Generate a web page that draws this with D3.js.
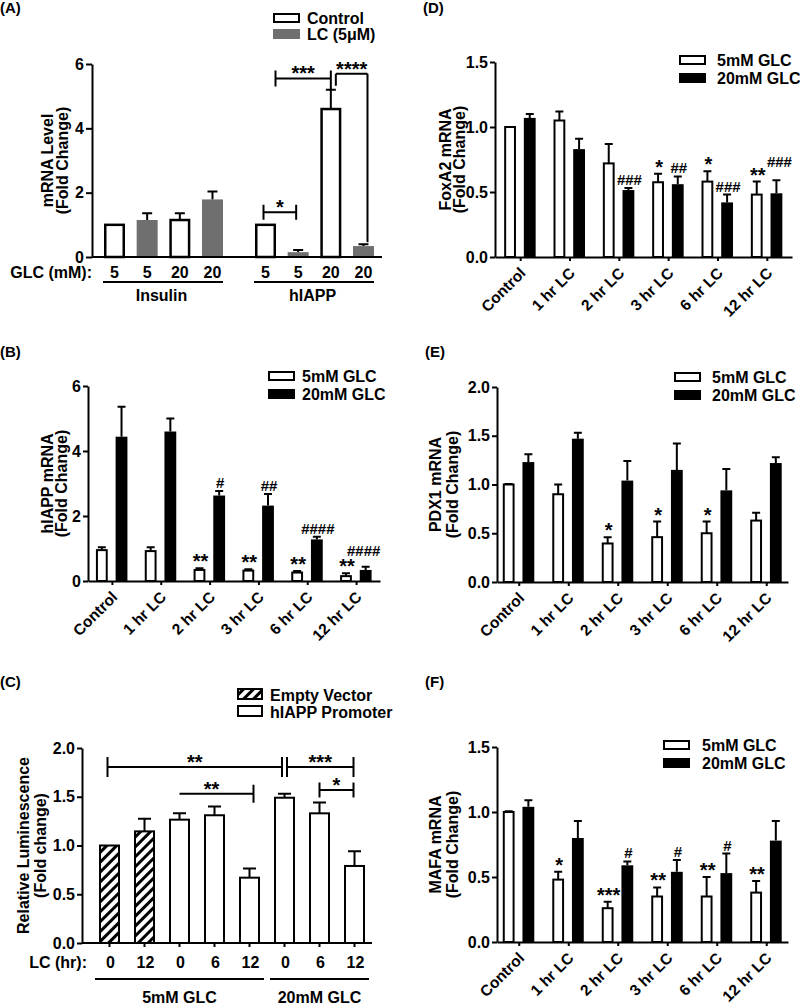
<!DOCTYPE html>
<html>
<head>
<meta charset="utf-8">
<script src="https://cdn.jsdelivr.net/npm/d3@7"></script>
<style>
html,body{margin:0;padding:0;background:#fff;}
svg{display:block;}
</style>
</head>
<body>
<svg id="fig" width="800" height="1005"></svg>
<script>
// ================= DATA =================
// Panel A
const aGroups = ["Insulin", "hIAPP"];
const aGlc = ["5", "5", "20", "20"];
const aTreatment = ["Control", "LC", "Control", "LC"];
const aLegend = ["Control", "LC (5\u03BCM)"];
const aInsulinMean = [1.00, 1.15, 1.15, 1.79];
const aInsulinSem  = [0.00, 0.21, 0.21, 0.25];
const aHiappMean   = [1.00, 0.15, 4.60, 0.34];
const aHiappSem    = [0.00, 0.07, 0.60, 0.06];
const aYTicks = [0, 2, 4, 6];
const aSig = [
  {from: 0, to: 1, text: "*"},
  {from: 0, to: 2, text: "***"},
  {from: 2, to: 3, text: "****"}
];

// Time-course panels (B, D, E, F)
const timeCats = ["Control", "1 hr LC", "2 hr LC", "3 hr LC", "6 hr LC", "12 hr LC"];
const glcSeries = ["5mM GLC", "20mM GLC"];

const bLow     = [0.95, 0.92, 0.34, 0.32, 0.26, 0.15];
const bLowSem  = [0.09, 0.12, 0.05, 0.04, 0.05, 0.09];
const bHigh    = [4.44, 4.60, 2.63, 2.32, 1.28, 0.34];
const bHighSem = [0.92, 0.40, 0.14, 0.36, 0.08, 0.10];
const bYTicks  = [0, 2, 4, 6];
const bMarks = [
  {cat: "2 hr LC", s: 0, text: "**"}, {cat: "2 hr LC", s: 1, text: "#"},
  {cat: "3 hr LC", s: 0, text: "**"}, {cat: "3 hr LC", s: 1, text: "##"},
  {cat: "6 hr LC", s: 0, text: "**"}, {cat: "6 hr LC", s: 1, text: "####"},
  {cat: "12 hr LC", s: 0, text: "**"}, {cat: "12 hr LC", s: 1, text: "####"}
];

const dLow     = [1.00, 1.05, 0.72, 0.575, 0.58, 0.48];
const dLowSem  = [0.00, 0.07, 0.15, 0.065, 0.08, 0.10];
const dHigh    = [1.07, 0.83, 0.515, 0.56, 0.42, 0.49];
const dHighSem = [0.03, 0.08, 0.015, 0.06, 0.06, 0.10];
const dYTicks  = [0, 0.5, 1.0, 1.5];
const dMarks = [
  {cat: "2 hr LC", s: 1, text: "###"},
  {cat: "3 hr LC", s: 0, text: "*"}, {cat: "3 hr LC", s: 1, text: "##"},
  {cat: "6 hr LC", s: 0, text: "*"}, {cat: "6 hr LC", s: 1, text: "###"},
  {cat: "12 hr LC", s: 0, text: "**"}, {cat: "12 hr LC", s: 1, text: "###"}
];

const eLow     = [1.00, 0.90, 0.395, 0.46, 0.50, 0.63];
const eLowSem  = [0.005, 0.10, 0.065, 0.16, 0.12, 0.08];
const eHigh    = [1.23, 1.47, 1.04, 1.15, 0.94, 1.22];
const eHighSem = [0.08, 0.06, 0.20, 0.27, 0.22, 0.06];
const eYTicks  = [0, 0.5, 1.0, 1.5, 2.0];
const eMarks = [
  {cat: "2 hr LC", s: 0, text: "*"},
  {cat: "3 hr LC", s: 0, text: "*"},
  {cat: "6 hr LC", s: 0, text: "*"}
];

const fLow     = [1.00, 0.48, 0.26, 0.35, 0.35, 0.38];
const fLowSem  = [0.005, 0.06, 0.05, 0.07, 0.15, 0.09];
const fHigh    = [1.04, 0.80, 0.59, 0.54, 0.53, 0.78];
const fHighSem = [0.05, 0.13, 0.03, 0.09, 0.15, 0.15];
const fYTicks  = [0, 0.5, 1.0, 1.5];
const fMarks = [
  {cat: "1 hr LC", s: 0, text: "*"},
  {cat: "2 hr LC", s: 0, text: "***"}, {cat: "2 hr LC", s: 1, text: "#"},
  {cat: "3 hr LC", s: 0, text: "**"}, {cat: "3 hr LC", s: 1, text: "#"},
  {cat: "6 hr LC", s: 0, text: "**"}, {cat: "6 hr LC", s: 1, text: "#"},
  {cat: "12 hr LC", s: 0, text: "**"}
];

// Panel C
const cLC     = ["0", "12", "0", "6", "12", "0", "6", "12"];
const cVector = ["Empty Vector", "Empty Vector", "hIAPP Promoter", "hIAPP Promoter",
                 "hIAPP Promoter", "hIAPP Promoter", "hIAPP Promoter", "hIAPP Promoter"];
const cGlc    = ["5mM GLC", "5mM GLC", "5mM GLC", "5mM GLC", "5mM GLC", "20mM GLC", "20mM GLC", "20mM GLC"];
const cMean   = [1.00, 1.145, 1.265, 1.31, 0.67, 1.49, 1.33, 0.79];
const cSem    = [0.00, 0.13, 0.065, 0.09, 0.095, 0.04, 0.11, 0.15];
const cYTicks = [0, 0.5, 1.0, 1.5, 2.0];
const cLegend = ["Empty Vector", "hIAPP Promoter"];
const cSig = [
  {from: 0, to: 5, text: "**"},
  {from: 5, to: 7, text: "***"},
  {from: 2, to: 4, text: "**"},
  {from: 6, to: 7, text: "*"}
];

// ================= DRAWING =================
const FONT = '"Liberation Sans", Arial, Helvetica, sans-serif';
const GREY = "#6f6f6f";
const svg = d3.select("#fig");
const root = svg.append("g").attr("font-family", FONT).attr("font-weight", "bold").attr("fill", "#000");

const defs = svg.append("defs");
const pat = defs.append("pattern").attr("id", "hatch").attr("patternUnits", "userSpaceOnUse")
  .attr("width", 7).attr("height", 7).attr("patternTransform", "rotate(45)");
pat.append("rect").attr("width", 7).attr("height", 7).attr("fill", "#fff");
pat.append("rect").attr("width", 3).attr("height", 7).attr("fill", "#000");

function styleAxis(g, fs) {
  g.attr("font-family", FONT).attr("font-weight", "bold").attr("font-size", fs);
  g.selectAll(".domain").attr("stroke", "#000").attr("stroke-width", 2);
  g.selectAll(".tick line").attr("stroke", "#000").attr("stroke-width", 2);
  g.selectAll(".tick text").attr("fill", "#000");
}
function panelLabel(txt, x, y) {
  root.append("text").attr("x", x).attr("y", y).attr("font-size", 15).text(txt);
}
function yLabel(lines, xs, yc) {
  lines.forEach((t, i) => root.append("text")
    .attr("transform", `translate(${xs[i]},${yc}) rotate(-90)`)
    .attr("text-anchor", "middle").attr("font-size", 16).text(t));
}
function errPath(cx, y, m, e, cap) {
  return `M${cx},${y(m)}V${y(m + e)}M${cx - cap / 2},${y(m + e)}H${cx + cap / 2}`;
}
function bracket(g, x1, x2, ly, leftEnd, rightEnd, text, tx, fs) {
  let d = `M${x1},${ly}H${x2}`;
  if (leftEnd) d += `M${x1},${leftEnd[0]}V${leftEnd[1]}`;
  if (rightEnd) d += `M${x2},${rightEnd[0]}V${rightEnd[1]}`;
  g.append("path").attr("d", d).attr("stroke", "#000").attr("stroke-width", 2).attr("fill", "none");
  g.append("text").attr("x", tx).attr("y", ly + 2).attr("text-anchor", "middle")
    .attr("font-size", fs).text(text);
}
function legendBox(g, x, y, w, h, kind, label, tx, fs) {
  if (kind === "white") {
    g.append("rect").attr("x", x + 1).attr("y", y + 1).attr("width", w - 2).attr("height", h - 2)
      .attr("fill", "#fff").attr("stroke", "#000").attr("stroke-width", 2);
  } else if (kind === "hatch") {
    g.append("rect").attr("x", x + 1).attr("y", y + 1).attr("width", w - 2).attr("height", h - 2)
      .attr("fill", "url(#hatch)").attr("stroke", "#000").attr("stroke-width", 2);
  } else {
    g.append("rect").attr("x", x).attr("y", y).attr("width", w).attr("height", h).attr("fill", kind);
  }
  g.append("text").attr("x", tx).attr("y", y + h + 1).attr("font-size", fs).text(label);
}

// ---------- Panel A ----------
(function () {
  const L = {axisX: 92, axisEnd: 382, y0: 257, y1: 64};
  const g = root.append("g");
  const x = d3.scaleBand().domain(aGroups).range([104, 374]).paddingInner(0.212);
  const xi = d3.scaleBand().domain(d3.range(aGlc.length)).range([0, x.bandwidth()]).paddingInner(0.357);
  const y = d3.scaleLinear().domain([0, 6]).range([L.y0, L.y1]);
  const means = {Insulin: aInsulinMean, hIAPP: aHiappMean};
  const sems = {Insulin: aInsulinSem, hIAPP: aHiappSem};
  const rows = aGroups.flatMap(gr => aGlc.map((glc, i) => ({gr, i, glc, t: aTreatment[i], m: means[gr][i], e: sems[gr][i]})));
  const cx = (gr, i) => x(gr) + xi(i) + xi.bandwidth() / 2;
  const isCtl = d => d.t === "Control";

  g.selectAll("path.err").data(rows.filter(d => d.e > 0)).join("path").attr("class", "err")
    .attr("d", d => errPath(cx(d.gr, d.i), y, d.m, d.e, 10))
    .attr("stroke", "#000").attr("stroke-width", 2).attr("fill", "none");
  g.selectAll("rect.bar").data(rows).join("rect").attr("class", "bar")
    .attr("x", d => x(d.gr) + xi(d.i) + (isCtl(d) ? 1.25 : 0))
    .attr("width", d => xi.bandwidth() - (isCtl(d) ? 2.5 : 0))
    .attr("y", d => y(d.m)).attr("height", d => y(0) - y(d.m))
    .attr("fill", d => isCtl(d) ? "#fff" : GREY)
    .attr("stroke", d => isCtl(d) ? "#000" : "none").attr("stroke-width", 2.5);

  const gy = g.append("g").attr("transform", `translate(${L.axisX},0)`)
    .call(d3.axisLeft(y).tickValues(aYTicks).tickFormat(d3.format("d")).tickSize(6).tickSizeOuter(0).tickPadding(2));
  styleAxis(gy, 16);
  g.append("line").attr("x1", L.axisX).attr("x2", L.axisEnd).attr("y1", y(0)).attr("y2", y(0))
    .attr("stroke", "#000").attr("stroke-width", 2);

  // x labels
  g.append("text").attr("x", L.axisX).attr("y", 278).attr("text-anchor", "end").attr("font-size", 16).text("GLC (mM):");
  g.selectAll("text.glc").data(rows).join("text").attr("class", "glc")
    .attr("x", d => cx(d.gr, d.i)).attr("y", 278).attr("text-anchor", "middle").attr("font-size", 16).text(d => d.glc);
  aGroups.forEach(gr => {
    g.append("line").attr("x1", x(gr) - 1).attr("x2", x(gr) + x.bandwidth()).attr("y1", 282).attr("y2", 282)
      .attr("stroke", "#000").attr("stroke-width", 2);
    g.append("text").attr("x", x(gr) + x.bandwidth() / 2 - 2).attr("y", 301).attr("text-anchor", "middle")
      .attr("font-size", 16).text(gr);
  });

  // significance (hIAPP group)
  const h = "hIAPP";
  const top = i => y(aHiappMean[i] + aHiappSem[i]);
  const s1 = aSig[0], s2 = aSig[1], s3 = aSig[2];
  let ly = y(1.39), x1 = cx(h, s1.from) - 2, x2 = cx(h, s1.to) - 2;
  bracket(g, x1, x2, ly, [ly - 7.5, ly + 7.5], [ly - 7.5, ly + 7.5], s1.text, (x1 + x2) / 2, 20);
  ly = y(5.55); x1 = cx(h, s2.from) + 10; x2 = cx(h, s2.to);
  bracket(g, x1, x2, ly, [ly - 8, ly + 8], [ly - 8, top(s2.to)], s2.text, (x1 + x2) / 2, 20);
  ly = y(5.7); x1 = cx(h, s3.from) + 5; x2 = cx(h, s3.to) + 4;
  bracket(g, x1, x2, ly, [ly, ly + 12], [ly, top(s3.to) - 2], s3.text, (x1 + x2) / 2, 20);

  legendBox(g, 273, 13, 27, 10, "white", aLegend[0], 307, 16);
  legendBox(g, 273, 29, 27, 10, GREY, aLegend[1], 307, 16);
  yLabel(["mRNA Level", "(Fold Change)"], [53, 68], (L.y0 + L.y1) / 2);
  panelLabel("(A)", 0, 13);
})();

// ---------- Time-course panels ----------
function timePanel(P) {
  const g = root.append("g");
  const x = d3.scalePoint().domain(timeCats).range([P.left, P.right]).padding(P.pad);
  const sub = d3.scaleBand().domain(glcSeries).range([-16, 15.5]).paddingInner(0.4);
  const y = d3.scaleLinear().domain([0, P.yMax]).range([P.y0, P.y1]);
  const rows = timeCats.flatMap((c, i) => [
    {c, s: glcSeries[0], m: P.low[i], e: P.lowSem[i]},
    {c, s: glcSeries[1], m: P.high[i], e: P.highSem[i]}]);
  const isLow = d => d.s === glcSeries[0];
  const cx = (c, s) => x(c) + sub(s) + sub.bandwidth() / 2;

  g.selectAll("path.err").data(rows.filter(d => d.e > 0)).join("path").attr("class", "err")
    .attr("d", d => errPath(cx(d.c, d.s), y, d.m, d.e, 8))
    .attr("stroke", "#000").attr("stroke-width", 2).attr("fill", "none");
  g.selectAll("rect.bar").data(rows).join("rect").attr("class", "bar")
    .attr("x", d => x(d.c) + sub(d.s) + (isLow(d) ? 1 : 0))
    .attr("width", d => sub.bandwidth() - (isLow(d) ? 2 : 0))
    .attr("y", d => y(d.m)).attr("height", d => y(0) - y(d.m))
    .attr("fill", d => isLow(d) ? "#fff" : "#000")
    .attr("stroke", d => isLow(d) ? "#000" : "none").attr("stroke-width", 2);

  const gy = g.append("g").attr("transform", `translate(${P.left},0)`)
    .call(d3.axisLeft(y).tickValues(P.ticks).tickFormat(d3.format(P.fmt)).tickSize(5).tickSizeOuter(0).tickPadding(2));
  styleAxis(gy, 16);
  const gx = g.append("g").attr("transform", `translate(0,${P.y0})`)
    .call(d3.axisBottom(x).tickSize(4).tickSizeOuter(0));
  styleAxis(gx, 15.5);
  gx.selectAll(".tick text").attr("y", 0).attr("dy", 0).attr("text-anchor", "end")
    .attr("transform", "translate(6,17) rotate(-45)");

  // significance marks
  P.marks.forEach(mk => {
    const i = timeCats.indexOf(mk.cat);
    const s = glcSeries[mk.s];
    const m = mk.s === 0 ? P.low[i] : P.high[i];
    const e = mk.s === 0 ? P.lowSem[i] : P.highSem[i];
    const star = mk.text.indexOf("*") >= 0;
    const nud = (P.nudge && P.nudge[mk.cat + "|" + mk.s]) || [0, 0];
    g.append("text").attr("x", cx(mk.cat, s) + 1 + nud[0]).attr("y", y(m + e) + (star ? 0 : -3) + nud[1])
      .attr("text-anchor", "middle").attr("font-size", star ? 20 : 15).text(mk.text);
  });

  legendBox(g, P.leg[0], P.leg[1], 27, 10, "white", glcSeries[0], P.leg[2], 16);
  legendBox(g, P.leg[0], P.leg[1] + 18, 27, 10, "#000", glcSeries[1], P.leg[2], 16);
  yLabel(P.ylabel, P.ylabelX, (P.y0 + P.y1) / 2);
  panelLabel(P.panel, P.panelXY[0], P.panelXY[1]);
}

timePanel({left: 88, right: 380, pad: 0.49, y0: 581, y1: 386, yMax: 6, ticks: bYTicks, fmt: "d",
  low: bLow, lowSem: bLowSem, high: bHigh, highSem: bHighSem, marks: bMarks,
  nudge: {"12 hr LC|1": [-3, -8]},
  leg: [268, 371, 302], ylabel: ["hIAPP mRNA", "(Fold Change)"], ylabelX: [53, 67],
  panel: "(B)", panelXY: [0, 357]});

timePanel({left: 495, right: 792, pad: 0.51, y0: 257, y1: 62, yMax: 1.5, ticks: dYTicks, fmt: ".1f",
  low: dLow, lowSem: dLowSem, high: dHigh, highSem: dHighSem, marks: dMarks,
  nudge: {"12 hr LC|1": [2, -10]},
  leg: [679, 55, 717], ylabel: ["FoxA2 mRNA", "(Fold Change)"], ylabelX: [451, 465],
  panel: "(D)", panelXY: [423, 13]});

timePanel({left: 497, right: 788, pad: 0.44, y0: 582, y1: 387, yMax: 2.0, ticks: eYTicks, fmt: ".1f",
  low: eLow, lowSem: eLowSem, high: eHigh, highSem: eHighSem, marks: eMarks,
  leg: [674, 372, 712], ylabel: ["PDX1 mRNA", "(Fold Change)"], ylabelX: [441, 458],
  panel: "(E)", panelXY: [425, 357]});

timePanel({left: 497, right: 788, pad: 0.44, y0: 942, y1: 747, yMax: 1.5, ticks: fYTicks, fmt: ".1f",
  low: fLow, lowSem: fLowSem, high: fHigh, highSem: fHighSem, marks: fMarks,
  leg: [663, 740, 702], ylabel: ["MAFA mRNA", "(Fold Change)"], ylabelX: [441, 458],
  panel: "(F)", panelXY: [425, 687]});

// ---------- Panel C ----------
(function () {
  const L = {axisX: 82, axisEnd: 372, y0: 943, y1: 748};
  const g = root.append("g");
  const idx = d3.range(cMean.length);
  const x = d3.scaleBand().domain(idx).range([92, L.axisEnd]).paddingInner(0.4).paddingOuter(0.2);
  const y = d3.scaleLinear().domain([0, 2]).range([L.y0, L.y1]);
  const cx = i => x(i) + x.bandwidth() / 2;
  const rows = idx.map(i => ({i, m: cMean[i], e: cSem[i], v: cVector[i], lc: cLC[i], glc: cGlc[i]}));

  g.selectAll("path.err").data(rows.filter(d => d.e > 0)).join("path").attr("class", "err")
    .attr("d", d => errPath(cx(d.i), y, d.m, d.e, 13))
    .attr("stroke", "#000").attr("stroke-width", 2).attr("fill", "none");
  g.selectAll("rect.bar").data(rows).join("rect").attr("class", "bar")
    .attr("x", d => x(d.i) + 1).attr("width", x.bandwidth() - 2)
    .attr("y", d => y(d.m)).attr("height", d => y(0) - y(d.m))
    .attr("fill", d => d.v === cLegend[0] ? "url(#hatch)" : "#fff")
    .attr("stroke", "#000").attr("stroke-width", 2);

  const gy = g.append("g").attr("transform", `translate(${L.axisX},0)`)
    .call(d3.axisLeft(y).tickValues(cYTicks).tickFormat(d3.format(".1f")).tickSize(5).tickSizeOuter(0).tickPadding(2));
  styleAxis(gy, 16);
  const gx = g.append("g").attr("transform", `translate(0,${L.y0})`)
    .call(d3.axisBottom(x).tickSize(4).tickSizeOuter(0).tickFormat(""));
  styleAxis(gx, 16);
  gx.select(".domain").remove();
  g.append("line").attr("x1", L.axisX).attr("x2", L.axisEnd).attr("y1", y(0)).attr("y2", y(0))
    .attr("stroke", "#000").attr("stroke-width", 2);

  g.append("text").attr("x", L.axisX + 5).attr("y", 968).attr("text-anchor", "end").attr("font-size", 16).text("LC (hr):");
  g.selectAll("text.lc").data(rows).join("text").attr("class", "lc")
    .attr("x", d => cx(d.i) + 1).attr("y", 968).attr("text-anchor", "middle").attr("font-size", 16).text(d => d.lc);
  const groups = Array.from(new Set(cGlc));
  groups.forEach(gr => {
    const ids = idx.filter(i => cGlc[i] === gr);
    const a = x(ids[0]) - 4, b = x(ids[ids.length - 1]) + x.bandwidth() + 4;
    g.append("line").attr("x1", a).attr("x2", b).attr("y1", 979).attr("y2", 979)
      .attr("stroke", "#000").attr("stroke-width", 2);
    g.append("text").attr("x", (a + b) / 2).attr("y", 1003).attr("text-anchor", "middle").attr("font-size", 16).text(gr);
  });

  // significance brackets
  let ly = y(1.805);
  let x1 = cx(cSig[0].from) - 2, x2 = cx(cSig[0].to) - 2.5;
  bracket(g, x1, x2, ly, [ly - 10, ly + 10], [ly - 10, ly + 10], cSig[0].text, (x1 + x2) / 2, 20);
  x1 = cx(cSig[1].from) + 2.5; x2 = cx(cSig[1].to) - 1;
  bracket(g, x1, x2, ly, [ly - 10, ly + 10], [ly - 10, ly + 10], cSig[1].text, (x1 + x2) / 2, 20);
  ly = y(1.53); x1 = cx(cSig[2].from); x2 = cx(cSig[2].to) + 4;
  bracket(g, x1, x2, ly, null, [ly - 9, ly + 9], cSig[2].text, (x1 + x2) / 2 - 5, 20);
  ly = y(1.57); x1 = cx(cSig[3].from); x2 = cx(cSig[3].to) - 1;
  bracket(g, x1, x2, ly, [ly - 7.5, ly + 7.5], [ly - 7.5, ly + 7.5], cSig[3].text, (x1 + x2) / 2, 20);

  legendBox(g, 237, 688, 26, 12, "hatch", cLegend[0], 270, 16);
  legendBox(g, 237, 705, 26, 12, "white", cLegend[1], 270, 16);
  yLabel(["Relative Luminescence", "(Fold change)"], [29, 46], (L.y0 + L.y1) / 2);
  panelLabel("(C)", 0, 687);
})();
</script>
</body>
</html>
